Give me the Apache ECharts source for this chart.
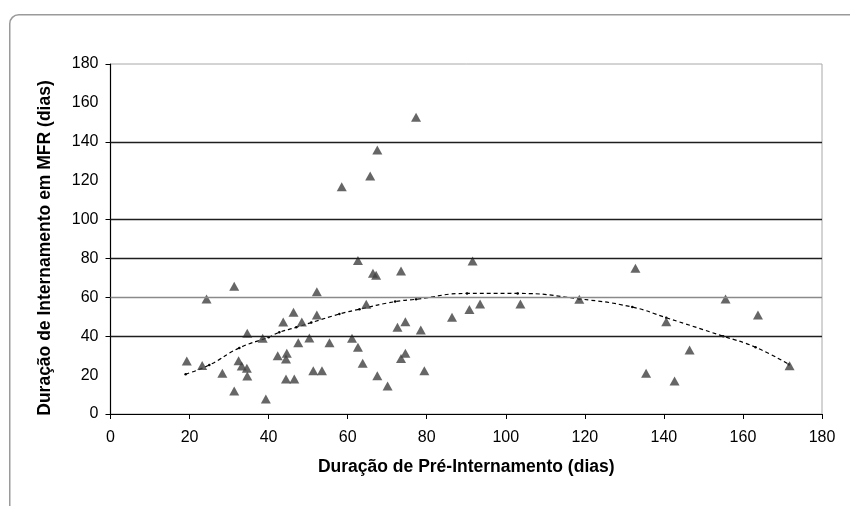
<!DOCTYPE html>
<html>
<head>
<meta charset="utf-8">
<script src="https://cdn.jsdelivr.net/npm/echarts@6/dist/echarts.min.js"></script>
<style>
html,body{margin:0;padding:0;background:#fff;}
#chart{width:850px;height:506px;}
</style>
</head>
<body>
<div id="chart"></div>
<script>
// Duração de Pré-Internamento (dias)
const preDays = [19.3,23.2,24.3,28.3,31.3,31.3,32.4,33.2,34.5,34.6,34.6,38.5,39.3,42.3,43.7,44.6,44.4,44.4,46.3,46.5,
  47.5,48.4,50.3,51.3,52.2,52.2,53.5,55.4,58.5,61.1,62.6,62.6,63.8,64.7,65.7,66.4,67.2,67.5,67.5,70.1,
  72.6,73.5,73.5,74.6,74.6,77.3,78.5,79.4,86.4,90.8,91.6,93.5,103.7,118.6,132.8,135.5,140.6,142.7,146.5,155.6,
  163.8,171.8];
// Duração de Internamento em MFR (dias)
const mfrDays = [27.3,24.9,59.2,20.9,65.7,11.8,27.4,24.7,23.5,19.5,41.5,38.9,7.7,30,47.3,31.2,28.3,18,52.3,18,
  36.6,47.3,39.1,22.3,62.9,50.9,22.3,36.6,116.9,38.9,78.9,34.3,26.1,56.4,122.4,72.4,71.3,135.8,19.7,14.4,
  44.6,73.6,28.6,31.2,47.5,152.6,43.2,22.3,49.7,53.8,78.7,56.6,56.6,59,74.9,20.9,47.5,17,32.9,59.2,
  50.9,24.8];
// trend line
const trendX = [19,25,32.6,40,42.7,47,50.8,57.9,63,72,77.3,90.2,103,118.6,132,140.6,155,163.2,171.6];
const trendY = [20.5,25.2,34,39.5,42,44.6,47,51.4,53.9,57.8,59,62,62,59.2,55,49.5,40,34.3,25.5];
// axis
const yTickValues = [0,40,60,80,100,140,180];
const gridLinesY = [40,60,80,100,140];
const xAxisTitle = 'Duração de Pré-Internamento (dias)';
const yAxisTitle = 'Duração de Internamento em MFR (dias)';

const chart = echarts.init(document.getElementById('chart'), null, {renderer:'canvas'});
const font = 'Liberation Sans, Arial, sans-serif';
chart.setOption({
  animation:false,
  backgroundColor:'#fff',
  textStyle:{fontFamily:font},
  graphic:[{
    type:'rect', left:9, top:14, z:-10,
    shape:{width:860, height:520, r:9},
    style:{fill:'#fff', stroke:'#9a9a9a', lineWidth:1.5}
  }],
  grid:{left:110.5, right:28, top:64, bottom:92, show:true, borderColor:'#a8a8a8', borderWidth:1, backgroundColor:'transparent'},
  xAxis:{
    type:'value', min:0, max:180, interval:20,
    name:xAxisTitle, nameLocation:'middle', nameGap:44,
    nameTextStyle:{fontFamily:font, fontWeight:'bold', fontSize:17.5, color:'#000'},
    axisLine:{show:true, onZero:false, lineStyle:{color:'#000', width:1.2}},
    axisTick:{show:true, inside:false, length:5, lineStyle:{color:'#000'}},
    axisLabel:{fontFamily:font, fontSize:16, color:'#000', margin:16},
    splitLine:{show:false}
  },
  yAxis:{
    type:'value', min:0, max:180, interval:20,
    name:yAxisTitle, nameLocation:'middle', nameGap:56, nameRotate:90,
    nameTextStyle:{fontFamily:font, fontWeight:'bold', fontSize:17.5, color:'#000', padding:[0,18,0,0]},
    axisLine:{show:true, onZero:false, lineStyle:{color:'#000', width:1.2}},
    axisTick:{show:true, inside:false, length:5, customValues:yTickValues, lineStyle:{color:'#000'}},
    axisLabel:{fontFamily:font, fontSize:16, color:'#000', margin:12},
    splitLine:{show:false}
  },
  series:[
    {
      type:'line', z:2,
      data: trendX.map((x,i)=>[x, trendY[i]]),
      smooth:true,
      symbol:'circle', symbolSize:2.5, showSymbol:true,
      itemStyle:{color:'#000'},
      lineStyle:{color:'#000', width:1.2, type:[4,3]},
      silent:true,
      markLine:{
        silent:true, symbol:'none', label:{show:false},
        data: gridLinesY.map(v=>({yAxis:v, lineStyle:{color: v===60 ? '#8a8a8a' : '#1e1e1e', width:1.3, type:'solid'}}))
      }
    },
    {
      type:'scatter', z:3,
      data: preDays.map((x,i)=>[x, mfrDays[i]]),
      symbol:'triangle', symbolSize:[10,9],
      itemStyle:{color:'#404040'}
    }
  ]
});
</script>
</body>
</html>
